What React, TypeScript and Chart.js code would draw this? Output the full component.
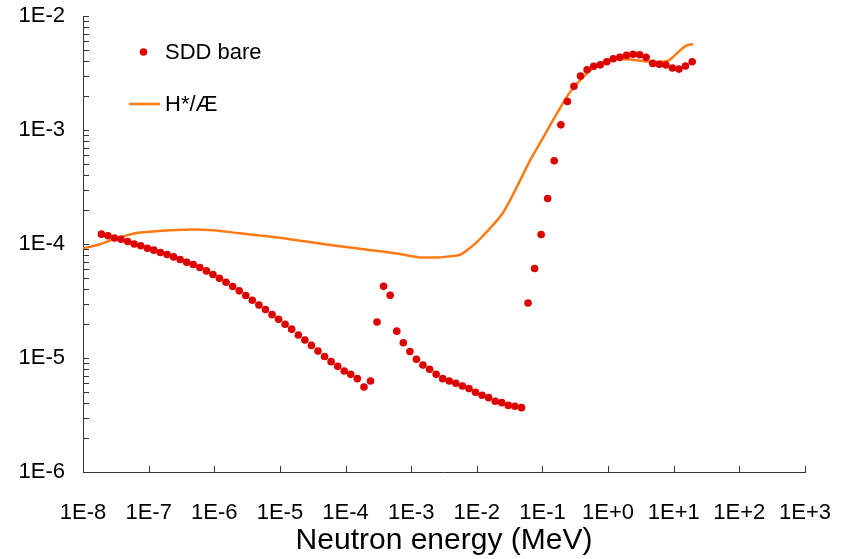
import React, { useEffect, useRef } from 'react';
import { Chart, registerables } from 'chart.js';

Chart.register(...registerables);

const FONT = '"Liberation Sans", Arial, Helvetica, sans-serif';

// X axis decades and their labels
const xTickValues = [1e-8, 1e-7, 1e-6, 1e-5, 1e-4, 1e-3, 1e-2, 1e-1, 1e0, 1e1, 1e2, 1e3];
const xTickLabels = ['1E-8', '1E-7', '1E-6', '1E-5', '1E-4', '1E-3', '1E-2', '1E-1', '1E+0', '1E+1', '1E+2', '1E+3'];

// Y axis decades and their labels
const yTickValues = [1e-6, 1e-5, 1e-4, 1e-3, 1e-2];
const yTickLabels = ['1E-6', '1E-5', '1E-4', '1E-3', '1E-2'];

// SDD bare (scatter points): neutron energy (MeV)
const sddEnergy = [
  1.91e-8, 2.40e-8, 3.02e-8, 3.80e-8, 4.79e-8, 6.03e-8, 7.59e-8, 9.55e-8,
  1.20e-7, 1.51e-7, 1.91e-7, 2.40e-7, 3.02e-7, 3.80e-7, 4.79e-7, 6.03e-7, 7.59e-7, 9.55e-7,
  1.20e-6, 1.51e-6, 1.91e-6, 2.40e-6, 3.02e-6, 3.80e-6, 4.79e-6, 6.03e-6, 7.59e-6, 9.55e-6,
  1.20e-5, 1.51e-5, 1.91e-5, 2.40e-5, 3.02e-5, 3.80e-5, 4.79e-5, 6.03e-5, 7.59e-5, 9.55e-5,
  1.20e-4, 1.51e-4, 1.91e-4, 2.40e-4,
  3.02e-4, 3.80e-4, 4.79e-4, 6.03e-4, 7.59e-4, 9.55e-4,
  1.20e-3, 1.51e-3, 1.91e-3, 2.40e-3, 3.02e-3, 3.80e-3, 4.79e-3, 6.03e-3, 7.59e-3, 9.55e-3,
  1.20e-2, 1.51e-2, 1.91e-2, 2.40e-2, 3.02e-2, 3.80e-2, 4.79e-2,
  6.03e-2, 7.59e-2, 9.55e-2,
  1.20e-1, 1.51e-1, 1.91e-1, 2.40e-1, 3.02e-1, 3.80e-1, 4.79e-1, 6.03e-1, 7.59e-1, 9.55e-1,
  1.20, 1.51, 1.91, 2.40, 3.02, 3.80, 4.79, 6.03, 7.59, 9.55,
  12.0, 15.1, 19.1,
];

// SDD bare response values
const sddValue = [
  1.22e-4, 1.18e-4, 1.13e-4, 1.10e-4, 1.05e-4, 1.00e-4, 9.64e-5, 9.19e-5,
  8.83e-5, 8.42e-5, 8.09e-5, 7.71e-5, 7.31e-5, 6.92e-5, 6.61e-5, 6.22e-5, 5.81e-5, 5.40e-5,
  5.01e-5, 4.62e-5, 4.24e-5, 3.88e-5, 3.53e-5, 3.21e-5, 2.92e-5, 2.66e-5, 2.40e-5, 2.19e-5,
  1.98e-5, 1.79e-5, 1.59e-5, 1.44e-5, 1.29e-5, 1.15e-5, 1.03e-5, 9.29e-6, 8.45e-6, 7.69e-6,
  7.19e-6, 6.59e-6, 5.56e-6, 6.28e-6,
  2.07e-5, 4.26e-5, 3.55e-5, 1.72e-5, 1.36e-5, 1.14e-5,
  9.75e-6, 8.69e-6, 7.96e-6, 7.19e-6, 6.59e-6, 6.28e-6, 6.00e-6, 5.68e-6, 5.39e-6, 5.00e-6,
  4.71e-6, 4.49e-6, 4.17e-6, 4.06e-6, 3.84e-6, 3.77e-6, 3.67e-6,
  3.04e-5, 6.09e-5, 1.21e-4,
  2.51e-4, 5.37e-4, 1.11e-3, 1.78e-3, 2.42e-3, 2.97e-3, 3.38e-3, 3.62e-3, 3.73e-3, 3.97e-3,
  4.22e-3, 4.34e-3, 4.52e-3, 4.61e-3, 4.57e-3, 4.34e-3, 3.84e-3, 3.77e-3, 3.72e-3, 3.50e-3,
  3.42e-3, 3.64e-3, 3.97e-3,
];

// H*/Æ (line)
const hEnergy = [
  1.00e-8, 1.82e-8, 2.90e-8, 4.63e-8, 7.40e-8, 1.18e-7, 2.12e-7, 4.80e-7, 9.68e-7, 2.47e-6,
  5.60e-6, 1.81e-5, 5.82e-5, 1.87e-4, 6.05e-4, 1.54e-3, 2.47e-3, 3.94e-3, 5.59e-3, 7.93e-3,
  1.00e-2, 1.26e-2, 1.60e-2, 2.55e-2, 4.08e-2, 6.52e-2, 0.104, 0.166, 0.265, 0.476,
  0.760, 1.21, 1.94, 3.10, 4.94, 7.91, 11.2, 15.0, 19.7,
];
const hValue = [
  9.13e-5, 9.96e-5, 1.10e-4, 1.19e-4, 1.26e-4, 1.29e-4, 1.32e-4, 1.34e-4, 1.32e-4, 1.24e-4,
  1.18e-4, 1.08e-4, 9.82e-5, 9.00e-5, 8.26e-5, 7.61e-5, 7.61e-5, 7.82e-5, 8.05e-5, 9.29e-5,
  1.04e-4, 1.19e-4, 1.38e-4, 1.91e-4, 3.17e-4, 5.44e-4, 8.71e-4, 1.40e-3, 2.16e-3, 3.14e-3,
  3.84e-3, 4.19e-3, 4.17e-3, 4.05e-3, 3.95e-3, 4.03e-3, 4.71e-3, 5.45e-3, 5.68e-3,
];

const SDD_COLOR = '#DD0000';
const H_COLOR = '#FF7A14';
const AXIS_COLOR = '#333333';

const innerTicksPlugin = {
  id: 'innerTicks',
  afterDraw(chart: any) {
    const { ctx, chartArea, scales } = chart;
    const xs = scales.x;
    const ys = scales.y;
    ctx.save();
    ctx.strokeStyle = AXIS_COLOR;
    ctx.lineWidth = 1;
    ctx.beginPath();
    for (const v of xTickValues) {
      const px = Math.round(xs.getPixelForValue(v)) + 0.5;
      ctx.moveTo(px, chartArea.bottom);
      ctx.lineTo(px, chartArea.bottom - 6);
    }
    for (let i = 0; i < yTickValues.length; i++) {
      const base = yTickValues[i];
      const mults = i === yTickValues.length - 1 ? [1] : [1, 2, 3, 4, 5, 6, 7, 8, 9];
      for (const m of mults) {
        const py = Math.round(ys.getPixelForValue(base * m)) + 0.5;
        ctx.moveTo(chartArea.left, py);
        ctx.lineTo(chartArea.left + 6, py);
      }
    }
    ctx.stroke();
    ctx.restore();
  },
};

const innerLegendPlugin = {
  id: 'innerLegend',
  afterDatasetsDraw(chart: any) {
    const { ctx, chartArea } = chart;
    const ds = chart.data.datasets;
    ctx.save();
    ctx.font = `22px ${FONT}`;
    ctx.textBaseline = 'middle';
    ctx.textAlign = 'left';
    const textX = chartArea.left + 82;
    // entry 1: point
    const y1 = chartArea.top + 36;
    ctx.beginPath();
    ctx.fillStyle = ds[0].backgroundColor;
    ctx.arc(chartArea.left + 60.5, y1, 3.8, 0, Math.PI * 2);
    ctx.fill();
    ctx.fillStyle = '#000';
    ctx.fillText(ds[0].label, textX, y1 + 1);
    // entry 2: line
    const y2 = chartArea.top + 88;
    ctx.beginPath();
    ctx.strokeStyle = ds[1].borderColor;
    ctx.lineWidth = 2.5;
    ctx.moveTo(chartArea.left + 46, y2);
    ctx.lineTo(chartArea.left + 77, y2);
    ctx.stroke();
    ctx.fillText(ds[1].label, textX, y2 + 1);
    ctx.restore();
  },
};

export default function App() {
  const canvasRef = useRef<HTMLCanvasElement | null>(null);

  useEffect(() => {
    if (!canvasRef.current) return;
    const sddPoints = sddEnergy.map((e, i) => ({ x: e, y: sddValue[i] }));
    const hPoints = hEnergy.map((e, i) => ({ x: e, y: hValue[i] }));

    const chart = new Chart(canvasRef.current, {
      type: 'scatter',
      data: {
        datasets: [
          {
            label: 'SDD bare',
            data: sddPoints,
            backgroundColor: SDD_COLOR,
            borderColor: SDD_COLOR,
            borderWidth: 0,
            pointRadius: 3.8,
            pointHoverRadius: 3.8,
            showLine: false,
          },
          {
            label: 'H*/Æ',
            data: hPoints,
            borderColor: H_COLOR,
            backgroundColor: H_COLOR,
            borderWidth: 2.5,
            pointRadius: 0,
            showLine: true,
            cubicInterpolationMode: 'monotone',
          },
        ],
      },
      options: {
        responsive: false,
        animation: false,
        events: [],
        layout: { padding: { left: 0, top: 16, right: 43, bottom: 0 } },
        plugins: {
          legend: { display: false },
          tooltip: { enabled: false },
        },
        scales: {
          x: {
            type: 'logarithmic',
            position: 'bottom',
            min: 1e-8,
            max: 1e3,
            grid: { display: false, drawTicks: false },
            border: { display: true, color: AXIS_COLOR, width: 1 },
            afterBuildTicks: (scale: any) => {
              scale.ticks = xTickValues.map((v) => ({ value: v }));
            },
            afterFit: (scale: any) => {
              scale.height = 87;
              scale.paddingLeft = 0;
              scale.paddingRight = 0;
              scale.paddingTop = 0;
              scale.paddingBottom = 0;
            },
            ticks: {
              autoSkip: false,
              maxRotation: 0,
              minRotation: 0,
              padding: 28,
              color: '#000',
              font: { family: FONT, size: 22 },
              callback: (_v: any, i: number) => xTickLabels[i],
            },
            title: {
              display: true,
              text: 'Neutron energy (MeV)',
              color: '#000',
              font: { family: FONT, size: 30 },
              padding: { top: 0, bottom: 0 },
            },
          },
          y: {
            type: 'logarithmic',
            min: 1e-6,
            max: 1e-2,
            grid: { display: false, drawTicks: false },
            border: { display: true, color: AXIS_COLOR, width: 1 },
            afterBuildTicks: (scale: any) => {
              scale.ticks = yTickValues.map((v) => ({ value: v }));
            },
            afterFit: (scale: any) => {
              scale.width = 83;
              scale.paddingLeft = 0;
              scale.paddingRight = 0;
              scale.paddingTop = 0;
              scale.paddingBottom = 0;
            },
            ticks: {
              autoSkip: false,
              padding: 18,
              color: '#000',
              font: { family: FONT, size: 22 },
              callback: (_v: any, i: number) => yTickLabels[i],
            },
          },
        },
      },
      plugins: [innerTicksPlugin, innerLegendPlugin],
    } as any);

    return () => chart.destroy();
  }, []);

  return (
    <div style={{ position: 'absolute', left: 0, top: 0, width: 848, height: 559, background: '#fff' }}>
      <canvas ref={canvasRef} width={848} height={559} style={{ display: 'block' }} />
    </div>
  );
}
